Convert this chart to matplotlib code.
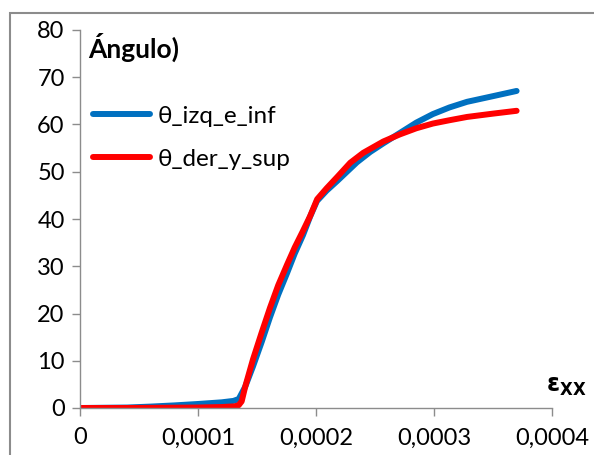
import matplotlib.pyplot as plt
from matplotlib.patches import Rectangle

plt.rcParams['font.family'] = ['Lato', 'DejaVu Sans']

# strain values (x) and angles for each series
x_izq = [0, 0.00002, 0.00004, 0.00006, 0.00008, 0.0001, 0.00012, 0.00013, 0.0001345,
         0.00014, 0.0001466, 0.000154, 0.000161, 0.000168, 0.0001754, 0.000182, 0.000189,
         0.000195, 0.0002008, 0.000209, 0.0002178, 0.0002347, 0.000246, 0.000257,
         0.000271, 0.000285, 0.000299, 0.000313, 0.000328, 0.00035, 0.00037]
y_izq = [0, 0.05, 0.1, 0.3, 0.55, 0.85, 1.2, 1.5, 1.9,
         4.5, 8.8, 14.0, 19.2, 24.0, 28.5, 32.7, 36.6,
         40.5, 43.8, 46.0, 48.0, 52.0, 54.2, 56.0,
         58.2, 60.4, 62.2, 63.6, 64.8, 66.0, 67.1]

x_der = [0, 0.00002, 0.00004, 0.00007, 0.0001, 0.00012, 0.000131, 0.0001345, 0.000137,
         0.00014, 0.0001466, 0.000154, 0.000161, 0.000168, 0.0001754, 0.000182, 0.000189,
         0.000195, 0.000201, 0.000209, 0.000218, 0.000229, 0.00024, 0.000257,
         0.000271, 0.000285, 0.000299, 0.000313, 0.000328, 0.00035, 0.00037]
y_der = [0, 0, 0, 0.05, 0.1, 0.2, 0.35, 0.6, 1.4,
         4.5, 10.3, 16.0, 21.2, 26.0, 30.3, 34.0, 37.5,
         40.6, 44.2, 46.5, 48.9, 51.9, 54.0, 56.4,
         57.9, 59.2, 60.2, 60.9, 61.6, 62.3, 62.9]

x_ticks = [0, 0.0001, 0.0002, 0.0003, 0.0004]
x_labels = ['0', '0,0001', '0,0002', '0,0003', '0,0004']
y_ticks = [0, 10, 20, 30, 40, 50, 60, 70, 80]

fig = plt.figure(figsize=(5.94, 4.55), dpi=100)
ax = fig.add_axes([80/594, 1-408/455, 472/594, 378/455])

# outer chart border (partly cropped in the original)
fig.patches.append(Rectangle((10/594, -0.1), 1.2, 1-13/455+0.1, transform=fig.transFigure,
                             fill=False, edgecolor='#8c8c8c', linewidth=1.5))

ax.plot(x_izq, y_izq, color='#0070C0', linewidth=4.3, solid_capstyle='round',
        solid_joinstyle='round', label='θ_izq_e_inf')
ax.plot(x_der, y_der, color='#FF0000', linewidth=4.3, solid_capstyle='round',
        solid_joinstyle='round', label='θ_der_y_sup')

ax.set_xlim(0, 0.0004)
ax.set_ylim(0, 80)
ax.set_xticks(x_ticks)
ax.set_xticklabels(x_labels)
ax.set_yticks(y_ticks)
ax.tick_params(axis='both', labelsize=17, color='#8c8c8c', length=6, width=1)
ax.tick_params(axis='x', pad=8)
ax.tick_params(axis='y', pad=5)

for s in ['top', 'right']:
    ax.spines[s].set_visible(False)
for s in ['left', 'bottom']:
    ax.spines[s].set_color('#8c8c8c')
    ax.spines[s].set_linewidth(1)

ax.text(8/472, 1 - 3/378, 'Ángulo)', transform=ax.transAxes, fontsize=19,
        fontweight='bold', va='top', ha='left')
ax.text(0.987, 0.042, r'$\mathbf{\varepsilon}_{\mathbf{XX}}$', transform=ax.transAxes,
        fontsize=17, ha='left', va='baseline')

ax.legend(loc='upper left', bbox_to_anchor=(13/472, 0.80), frameon=False, fontsize=17.5,
          handlelength=2.35, handletextpad=0.3, labelspacing=0.92, borderaxespad=0,
          borderpad=0)

fig.savefig('out.png', dpi=100)
